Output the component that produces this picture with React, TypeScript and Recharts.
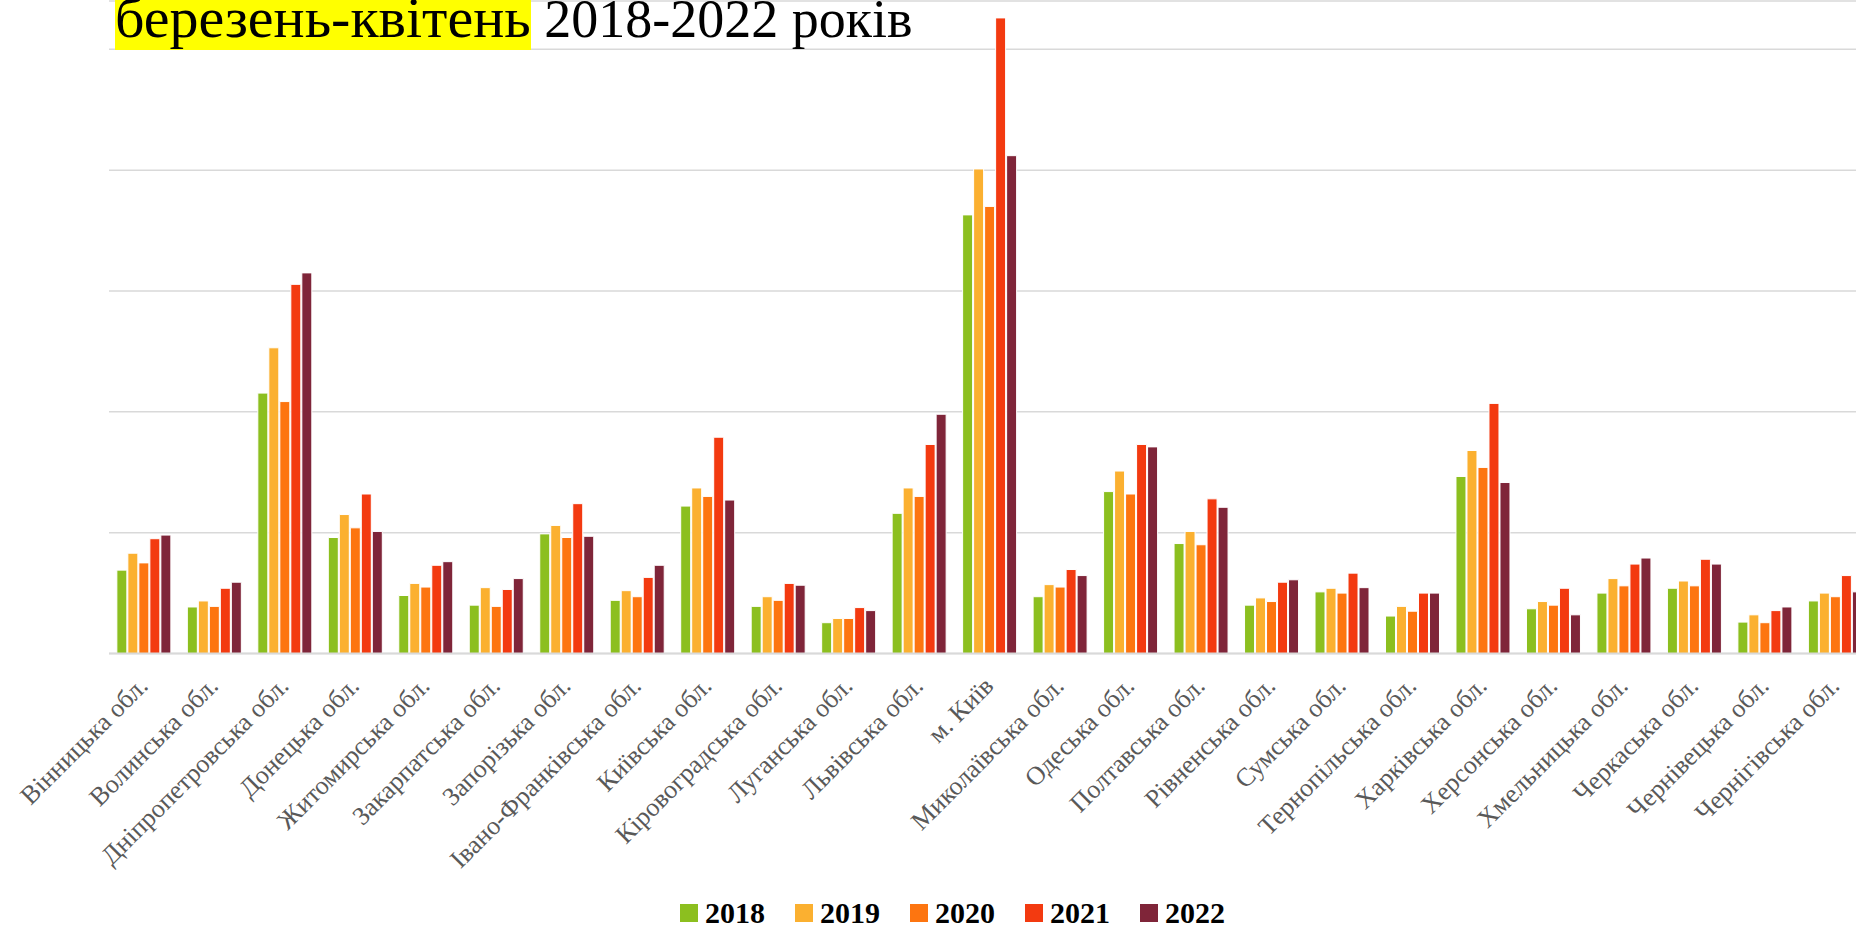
import { Bar, BarChart, CartesianGrid, Legend, XAxis, YAxis } from "recharts";

// Regions (oblasts), in the order they appear on the axis
const regions = [
  "Вінницька обл.",
  "Волинська обл.",
  "Дніпропетровська обл.",
  "Донецька обл.",
  "Житомирська обл.",
  "Закарпатська обл.",
  "Запорізька обл.",
  "Івано-Франківська обл.",
  "Київська обл.",
  "Кіровоградська обл.",
  "Луганська обл.",
  "Львівська обл.",
  "м. Київ",
  "Миколаївська обл.",
  "Одеська обл.",
  "Полтавська обл.",
  "Рівненська обл.",
  "Сумська обл.",
  "Тернопільська обл.",
  "Харківська обл.",
  "Херсонська обл.",
  "Хмельницька обл.",
  "Черкаська обл.",
  "Чернівецька обл.",
  "Чернігівська обл.",
];

// values (no axis labels in the source, so units are relative)
const y2018 = [690, 385, 2155, 960, 480, 400, 990, 440, 1220, 390, 255, 1160, 3630, 470, 1340, 910, 400, 510, 310, 1465, 370, 500, 540, 260, 435];
const y2019 = [830, 435, 2530, 1150, 580, 545, 1060, 520, 1370, 470, 290, 1370, 4010, 570, 1510, 1010, 460, 540, 390, 1680, 430, 620, 600, 320, 500];
const y2020 = [750, 390, 2085, 1040, 550, 390, 960, 470, 1300, 440, 290, 1300, 3700, 550, 1320, 900, 430, 500, 350, 1540, 400, 560, 560, 255, 470];
const y2021 = [950, 540, 3055, 1320, 730, 530, 1240, 630, 1790, 580, 380, 1730, 5260, 695, 1730, 1280, 590, 665, 500, 2070, 540, 740, 780, 355, 645];
const y2022 = [980, 590, 3150, 1010, 760, 620, 970, 730, 1270, 565, 355, 1980, 4120, 645, 1710, 1210, 610, 545, 500, 1415, 320, 790, 740, 385, 510];

const yTicks = [0, 1000, 2000, 3000, 4000, 5000];

const series = [
  { key: "2018", color: "#8cbf1f" },
  { key: "2019", color: "#fbb030" },
  { key: "2020", color: "#fd7510" },
  { key: "2021", color: "#f33a10" },
  { key: "2022", color: "#7f2539" },
];

const rows = regions.map((name, i) => ({
  name,
  "2018": y2018[i],
  "2019": y2019[i],
  "2020": y2020[i],
  "2021": y2021[i],
  "2022": y2022[i],
}));

const SERIF = "'Liberation Serif', 'DejaVu Serif', serif";
const GRID = "#d9d9d9";

function AngledTick({ x, y, payload }: { x?: number; y?: number; payload?: { value: string } }) {
  const ax = (x ?? 0) + 5;
  const ay = (y ?? 0) + 26;
  return (
    <text
      x={ax}
      y={ay}
      transform={`rotate(-45 ${ax} ${ay})`}
      textAnchor="end"
      fill="#595959"
      fontSize={26}
      fontFamily={SERIF}
    >
      {payload?.value}
    </text>
  );
}

function YearLegend() {
  return (
    <div style={{ display: "flex", alignItems: "center", fontFamily: SERIF }}>
      {series.map((s) => (
        <div key={s.key} style={{ display: "flex", alignItems: "center", width: 115 }}>
          <span style={{ width: 18, height: 18, background: s.color, marginRight: 7 }} />
          <span style={{ fontSize: 30, fontWeight: 700, color: "#000", lineHeight: "32px" }}>{s.key}</span>
        </div>
      ))}
    </div>
  );
}

export default function App() {
  return (
    <div
      style={{
        position: "fixed",
        left: 0,
        top: 0,
        width: 1856,
        height: 928,
        overflow: "hidden",
        background: "#fff",
      }}
    >
      <BarChart
        width={1871}
        height={928}
        data={rows}
        margin={{ top: 1, right: 0, bottom: 42.5, left: 109 }}
        barCategoryGap="11.15%"
        barGap={1}
      >
        <CartesianGrid stroke={GRID} strokeWidth={1.5} vertical={false} />
        <XAxis
          dataKey="name"
          interval={0}
          height={200}
          tickLine={false}
          axisLine={{ stroke: GRID, strokeWidth: 2 }}
          tick={<AngledTick />}
        />
        <YAxis hide domain={[0, 5400]} ticks={yTicks} />
        <Legend
          verticalAlign="bottom"
          content={<YearLegend />}
          wrapperStyle={{ left: 680, top: 897, bottom: "auto", width: 600, height: 32 }}
        />
        {series.map((s) => (
          <Bar
            key={s.key}
            dataKey={s.key}
            fill={s.color}
            stroke="#fff"
            strokeWidth={1}
            isAnimationActive={false}
          />
        ))}
      </BarChart>
      <div
        style={{
          position: "absolute",
          left: 115,
          top: -16,
          fontFamily: SERIF,
          fontSize: 58,
          whiteSpace: "nowrap",
          color: "#000",
        }}
      >
        <span style={{ background: "#ffff00" }}>березень-квітень</span>
        <span style={{ fontSize: 54 }}> 2018-2022 років</span>
      </div>
    </div>
  );
}
